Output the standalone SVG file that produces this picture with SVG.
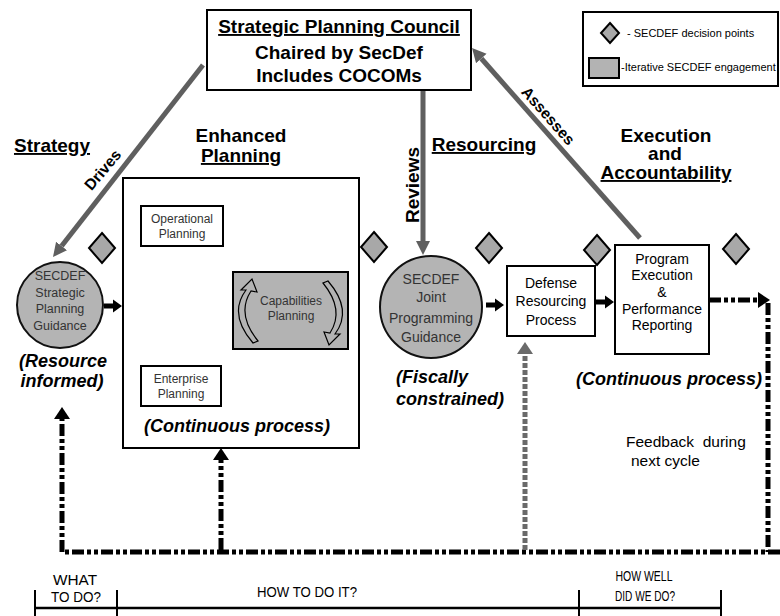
<svg xmlns="http://www.w3.org/2000/svg" width="780" height="616" viewBox="0 0 780 616">
<style>
text{font-family:"Liberation Sans",Arial,Helvetica,sans-serif;}
.hdr{font-size:19px;font-weight:bold;text-anchor:middle;fill:#000;}
.ul{text-decoration:underline;}
.bi{font-size:18px;font-weight:bold;font-style:italic;fill:#000;}
.box{fill:#fff;stroke:#000;stroke-width:2;}
.gbox{fill:#b3b3b3;stroke:#000;stroke-width:2;}
.circ{fill:#b4b4b4;stroke:#111;stroke-width:2;}
.dia{fill:#a8a8a8;stroke:#000;stroke-width:2;}
.sm{font-size:12px;fill:#333;text-anchor:middle;}
.md{font-size:14px;fill:#000;text-anchor:middle;}
.gl{font-size:14px;fill:#333;text-anchor:middle;}
.lg{font-size:11px;fill:#000;}
.gray{stroke:#5f5f5f;stroke-width:5;fill:none;marker-end:url(#gh);}
.dbl{stroke:#000;stroke-width:4;fill:none;marker-start:url(#bh);marker-end:url(#bh);}
.dash{stroke:#000;stroke-width:5;fill:none;stroke-dasharray:12 3 4 3 4 3;}
.gdash{stroke:#6a6a6a;stroke-width:5;fill:none;stroke-dasharray:5 2;}
.lbl{font-size:15.5px;font-weight:bold;text-anchor:middle;fill:#000;}
.bot{font-size:15px;fill:#000;text-anchor:middle;}
.cyc{fill:#b3b3b3;stroke:#000;stroke-width:1.2;}
</style>
<defs>
<marker id="gh" markerUnits="userSpaceOnUse" markerWidth="16" markerHeight="16" refX="0" refY="8" orient="auto">
<path d="M0,1 L14,8 L0,15 Z" fill="#5f5f5f"/>
</marker>
<marker id="bh" markerUnits="userSpaceOnUse" markerWidth="14" markerHeight="14" refX="0" refY="7" orient="auto-start-reverse">
<path d="M0,1 L11,7 L0,13 Z" fill="#000"/>
</marker>
<marker id="dh" markerUnits="userSpaceOnUse" markerWidth="14" markerHeight="18" refX="0" refY="9" orient="auto">
<path d="M0,1 L12,9 L0,17 Z" fill="#000"/>
</marker>
<marker id="gdh" markerUnits="userSpaceOnUse" markerWidth="14" markerHeight="18" refX="0" refY="9" orient="auto">
<path d="M0,1 L12,9 L0,17 Z" fill="#6a6a6a"/>
</marker>
<path id="sarrow" d="M0,-2.5 L9,-2.5 L9,-6.5 L18,0 L9,6.5 L9,2.5 L0,2.5 Z" fill="#000"/>
<path id="diamond" d="M0,-15 L13,0 L0,15 L-13,0 Z"/>
</defs>

<!-- Headers -->
<g id="headers">
<text class="hdr ul" x="52" y="152">Strategy</text>
<text class="hdr" x="241" y="142">Enhanced</text>
<text class="hdr ul" x="241" y="162">Planning</text>
<text class="hdr ul" x="484" y="151">Resourcing</text>
<text class="hdr" x="666" y="142">Execution</text>
<text class="hdr" x="665" y="160">and</text>
<text class="hdr ul" x="666" y="179">Accountability</text>
</g>

<!-- Connectors -->
<g id="connectors">
<path class="gray" d="M203,65 L61.6,246"/>
<path class="gray" d="M640,238 L481.3,58.5"/>
<path class="gray" d="M423,90 L423,241"/>
<path class="dbl" d="M180,258 L180,354"/>
<path class="dbl" d="M234.2,234 L274.8,260"/>
<path class="dbl" d="M277.5,355.5 L232.5,381.5"/>
<use href="#sarrow" x="104" y="306"/>
<use href="#sarrow" x="486" y="305"/>
<use href="#sarrow" x="596" y="302"/>
<path class="dash" d="M709,300 L758,300" marker-end="url(#dh)"/>
<path class="dash" d="M768,303 L768,552"/>
<path class="dash" d="M780,552 L62,552"/>
<path class="dash" d="M62,552 L62,419" marker-end="url(#dh)"/>
<path class="dash" d="M221,550 L221,460" marker-end="url(#dh)"/>
<path class="gdash" d="M525,550 L525,354" marker-end="url(#gdh)"/>
<g transform="translate(103,170) rotate(-50)"><text class="lbl" x="0" y="5">Drives</text></g>
<g transform="translate(548,116) rotate(48.5)"><text class="lbl" x="0" y="5">Assesses</text></g>
<g transform="translate(412,185) rotate(-90)"><text class="hdr" x="0" y="7">Reviews</text></g>
</g>

<!-- Council -->
<g id="council">
<rect class="box" x="207" y="10" width="264" height="80"/>
<text class="hdr ul" x="339" y="33">Strategic Planning Council</text>
<text class="hdr" x="339" y="59">Chaired by SecDef</text>
<text class="hdr" x="339" y="82">Includes COCOMs</text>
</g>

<!-- Legend -->
<g id="legend">
<rect class="box" x="583" y="12" width="195" height="74"/>
<path d="M610,23 L619,33 L610,43 L601,33 Z" class="dia"/>
<text class="lg" x="627" y="37">- SECDEF decision points</text>
<rect x="589" y="58" width="30" height="20" fill="#b3b3b3" stroke="#000" stroke-width="2"/>
<text class="lg" x="621" y="71">-Iterative SECDEF engagement</text>
</g>

<!-- Diamonds -->
<g id="decision-points">
<use href="#diamond" class="dia" x="102" y="248"/>
<use href="#diamond" class="dia" x="374" y="247"/>
<use href="#diamond" class="dia" x="489" y="248"/>
<use href="#diamond" class="dia" x="597" y="250"/>
<use href="#diamond" class="dia" x="736" y="249"/>
</g>

<!-- SECDEF Strategic Planning Guidance -->
<g id="spg">
<circle class="circ" cx="60" cy="305" r="43"/>
<text class="sm" x="60" y="280" style="font-size:12.5px">SECDEF</text>
<text class="sm" x="60" y="297" style="font-size:12.5px">Strategic</text>
<text class="sm" x="60" y="313" style="font-size:12.5px">Planning</text>
<text class="sm" x="60" y="330" style="font-size:12.5px">Guidance</text>
<text class="bi" x="63" y="367" text-anchor="middle">(Resource</text>
<text class="bi" x="62" y="387" text-anchor="middle">informed)</text>
</g>

<!-- Enhanced Planning -->
<g id="enhanced-planning">
<rect class="box" x="123" y="178" width="236" height="270"/>
<text class="bi" x="237" y="432" text-anchor="middle">(Continuous process)</text>
</g>
<g id="operational-planning">
<rect class="box" x="141" y="206" width="82" height="40"/>
<text class="sm" x="182" y="223">Operational</text>
<text class="sm" x="182" y="238">Planning</text>
</g>
<g id="enterprise-planning">
<rect class="box" x="141" y="366" width="80" height="40"/>
<text class="sm" x="181" y="383">Enterprise</text>
<text class="sm" x="181" y="398">Planning</text>
</g>
<g id="capabilities-planning">
<rect class="gbox" x="233" y="272" width="115" height="77"/>
<path class="cyc" d="M253,343 Q228,314 246,290 L241,290 L252,279 L257,292 L251,291 Q236,314 258,341 Z"/>
<path class="cyc" d="M328,281 Q353,310 335,334 L340,334 L329,345 L324,332 L330,333 Q345,310 323,283 Z"/>
<text class="sm" x="291" y="305">Capabilities</text>
<text class="sm" x="291" y="320">Planning</text>
</g>

<!-- SECDEF Joint Programming Guidance -->
<g id="jpg">
<circle class="circ" cx="431" cy="307" r="51"/>
<text class="gl" x="431" y="284">SECDEF</text>
<text class="gl" x="431" y="302">Joint</text>
<text class="gl" x="431" y="323">Programming</text>
<text class="gl" x="431" y="342">Guidance</text>
<text class="bi" x="396" y="383">(Fiscally</text>
<text class="bi" x="396" y="405">constrained)</text>
</g>

<!-- Defense Resourcing Process -->
<g id="drp">
<rect class="box" x="507" y="266" width="88" height="70"/>
<text class="md" x="551" y="288">Defense</text>
<text class="md" x="551" y="306">Resourcing</text>
<text class="md" x="551" y="325">Process</text>
</g>

<!-- Program Execution -->
<g id="program-execution">
<rect class="box" x="615" y="245" width="94" height="109"/>
<text class="md" x="662" y="264">Program</text>
<text class="md" x="662" y="280">Execution</text>
<text class="md" x="662" y="297">&amp;</text>
<text class="md" x="662" y="314">Performance</text>
<text class="md" x="662" y="330">Reporting</text>
<text class="bi" x="576" y="385">(Continuous process)</text>
</g>

<g id="feedback">
<text x="626" y="447" style="font-size:15.5px;white-space:pre">Feedback  during</text>
<text x="631" y="466" style="font-size:15.5px">next cycle</text>
</g>

<!-- Bottom scale -->
<g id="timeline">
<line x1="35" y1="608" x2="721" y2="608" stroke="#000" stroke-width="2.5"/>
<line x1="35" y1="590" x2="35" y2="616" stroke="#000" stroke-width="2"/>
<line x1="117" y1="590" x2="117" y2="616" stroke="#000" stroke-width="2"/>
<line x1="579" y1="590" x2="579" y2="616" stroke="#000" stroke-width="2"/>
<line x1="721" y1="590" x2="721" y2="616" stroke="#000" stroke-width="2"/>
<text class="bot" x="75" y="585" textLength="44" lengthAdjust="spacingAndGlyphs">WHAT</text>
<text class="bot" x="76" y="602" textLength="50" lengthAdjust="spacingAndGlyphs">TO DO?</text>
<text class="bot" x="307" y="597" textLength="100" lengthAdjust="spacingAndGlyphs">HOW TO DO IT?</text>
<text class="bot" x="644" y="581" textLength="57" lengthAdjust="spacingAndGlyphs">HOW WELL</text>
<text class="bot" x="645" y="601" textLength="60" lengthAdjust="spacingAndGlyphs">DID WE DO?</text>
</g>
</svg>
